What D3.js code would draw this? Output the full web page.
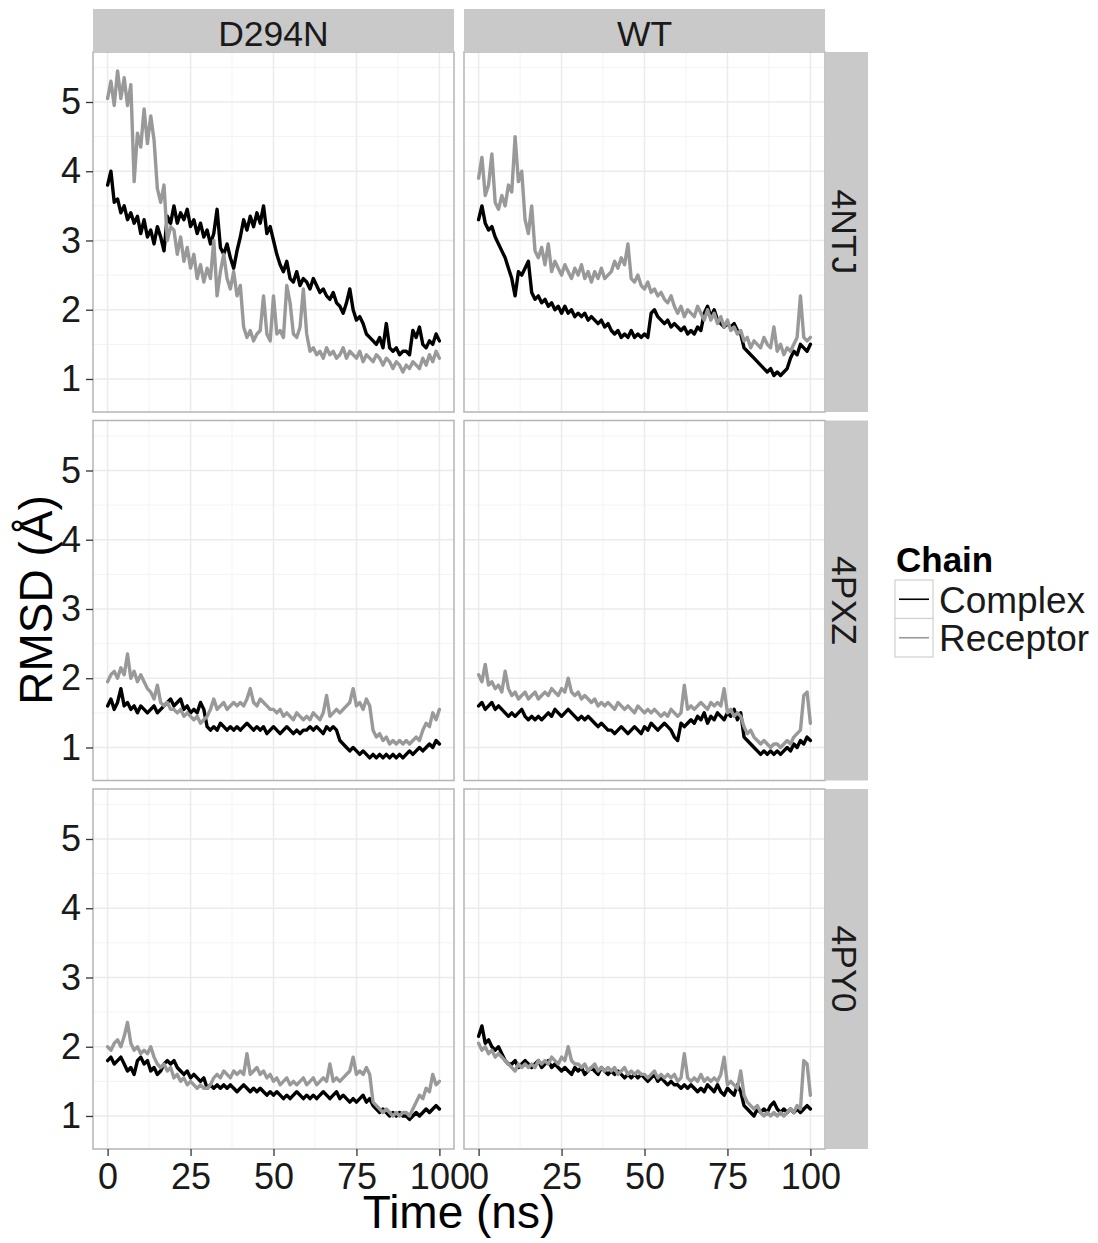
<!DOCTYPE html>
<html><head><meta charset="utf-8">
<script src="https://cdn.jsdelivr.net/npm/d3@7"></script>
<style>
body{margin:0;background:#fff}
svg{display:block;font-family:"Liberation Sans",Arial,Helvetica,sans-serif}
</style>
</head><body>
<svg id="chart" width="1098" height="1243"></svg>
<script>
// ---------- data ----------
const mutants = ["D294N", "WT"];
const structures = ["4NTJ", "4PXZ", "4PY0"];
const chains = ["Complex", "Receptor"];
const xTicks = [0, 25, 50, 75, 100];
const yTicks = [1, 2, 3, 4, 5];
const xLabel = "Time (ns)";
const yLabel = "RMSD (Å)";
const legendTitle = "Chain";

// sample times (ns)
const timeNs = [0,1,2,3,4,5,6,7,8,9,10,11,12,13,14,15,16,17,18,19,20,21,22,23,24,25,26,27,28,29,30,31,32,33,34,35,36,37,38,39,40,41,42,43,44,45,46,47,48,49,50,51,52,53,54,55,56,57,58,59,60,61,62,63,64,65,66,67,68,69,70,71,72,73,74,75,76,77,78,79,80,81,82,83,84,85,86,87,88,89,90,91,92,93,94,95,96,97,98,99,100];

const D294N_4NTJ_Complex = [3.80,4.00,3.55,3.60,3.40,3.50,3.30,3.40,3.25,3.35, 3.10,3.30,3.05,3.15,2.95,3.20,3.05,2.85,3.35,3.25, 3.50,3.25,3.40,3.30,3.45,3.20,3.30,3.10,3.25,3.05, 3.15,2.95,3.10,3.45,2.90,2.80,2.95,2.75,2.60,2.85, 3.05,3.30,3.15,3.35,3.20,3.40,3.25,3.50,3.10,3.20, 3.00,2.80,2.65,2.55,2.70,2.45,2.40,2.55,2.35,2.45, 2.40,2.30,2.45,2.35,2.25,2.30,2.20,2.15,2.25,2.10, 2.05,1.95,2.10,2.30,2.00,1.85,1.90,1.80,1.65,1.60, 1.55,1.50,1.60,1.45,1.80,1.45,1.40,1.45,1.35,1.40, 1.40,1.35,1.70,1.60,1.75,1.50,1.45,1.55,1.50,1.65,1.55];
const D294N_4NTJ_Receptor = [5.05,5.30,4.95,5.45,5.05,5.35,4.95,5.25,3.85,4.55, 4.35,4.90,4.40,4.80,4.45,3.75,3.55,3.80,3.00,3.20, 3.15,2.80,3.05,2.70,2.90,2.60,2.80,2.45,2.65,2.40, 2.60,2.45,3.00,2.20,2.55,2.80,2.45,2.30,2.55,2.20, 2.35,1.75,1.60,1.70,1.55,1.65,1.70,2.20,1.65,1.55, 2.20,1.65,1.70,1.60,2.35,2.10,1.65,1.60,1.75,2.30, 1.65,1.40,1.45,1.35,1.40,1.30,1.45,1.35,1.40,1.30, 1.35,1.45,1.30,1.40,1.35,1.30,1.40,1.25,1.35,1.30, 1.25,1.35,1.30,1.20,1.30,1.25,1.15,1.25,1.20,1.10, 1.20,1.15,1.25,1.20,1.15,1.30,1.20,1.35,1.25,1.40,1.30];
const WT_4NTJ_Complex = [3.30,3.50,3.25,3.15,3.20,3.05,2.95,2.85,2.75,2.60, 2.45,2.20,2.55,2.50,2.60,2.70,2.25,2.15,2.20,2.10, 2.15,2.05,2.10,2.00,2.05,1.95,2.05,1.95,2.00,1.90, 1.95,1.90,1.95,1.85,1.90,1.85,1.80,1.85,1.75,1.80, 1.70,1.65,1.70,1.60,1.65,1.60,1.70,1.60,1.65,1.60, 1.65,1.60,1.95,2.00,1.90,1.85,1.80,1.85,1.75,1.80, 1.75,1.70,1.75,1.65,1.70,1.65,1.75,1.70,1.95,2.05, 1.90,2.00,1.85,1.80,1.75,1.80,1.75,1.80,1.70,1.65, 1.45,1.40,1.35,1.30,1.25,1.20,1.15,1.10,1.15,1.05, 1.10,1.05,1.10,1.15,1.30,1.40,1.35,1.50,1.45,1.40,1.50];
const WT_4NTJ_Receptor = [3.90,4.20,3.65,3.80,4.25,3.55,3.45,3.65,3.50,3.80, 3.70,4.50,3.85,4.00,3.30,3.10,3.50,2.85,2.75,2.90, 2.65,2.95,2.55,2.70,2.60,2.50,2.65,2.55,2.45,2.60, 2.50,2.65,2.45,2.55,2.40,2.55,2.45,2.60,2.45,2.50, 2.55,2.70,2.60,2.75,2.65,2.95,2.45,2.40,2.50,2.35, 2.30,2.40,2.25,2.30,2.20,2.25,2.15,2.10,2.20,2.05, 1.95,2.05,1.90,2.00,1.95,1.90,2.05,1.95,1.85,2.00, 1.85,1.95,1.80,1.90,1.75,1.85,1.70,1.75,1.65,1.70, 1.55,1.60,1.45,1.55,1.50,1.45,1.60,1.50,1.45,1.75, 1.40,1.50,1.35,1.45,1.40,1.50,1.60,2.20,1.60,1.55,1.60];
const D294N_4PXZ_Complex = [1.60,1.70,1.55,1.65,1.85,1.60,1.65,1.55,1.60,1.50, 1.60,1.55,1.50,1.55,1.60,1.50,1.55,1.60,1.65,1.70, 1.60,1.65,1.70,1.55,1.60,1.50,1.55,1.50,1.65,1.55, 1.30,1.25,1.30,1.25,1.35,1.30,1.25,1.30,1.25,1.30, 1.25,1.30,1.35,1.30,1.25,1.30,1.25,1.30,1.20,1.25, 1.30,1.25,1.20,1.25,1.30,1.25,1.20,1.25,1.20,1.25, 1.25,1.30,1.25,1.30,1.25,1.20,1.30,1.25,1.30,1.25, 1.10,1.05,1.00,0.95,1.00,0.95,0.90,0.95,0.90,0.85, 0.90,0.85,0.90,0.85,0.90,0.85,0.90,0.85,0.90,0.85, 0.90,0.95,0.90,0.95,1.00,0.95,1.00,1.05,1.00,1.10,1.05];
const D294N_4PXZ_Receptor = [1.95,2.05,2.10,2.00,2.15,2.05,2.35,2.00,2.10,1.95, 2.05,1.95,1.85,1.80,1.70,1.90,1.65,1.60,1.65,1.55, 1.55,1.50,1.55,1.45,1.50,1.45,1.40,1.45,1.35,1.40, 1.45,1.55,1.70,1.55,1.60,1.65,1.55,1.60,1.65,1.60, 1.65,1.60,1.70,1.85,1.65,1.60,1.70,1.65,1.60,1.55, 1.55,1.50,1.55,1.45,1.50,1.45,1.40,1.50,1.45,1.40, 1.45,1.40,1.50,1.45,1.40,1.50,1.75,1.45,1.50,1.55, 1.50,1.55,1.60,1.65,1.85,1.60,1.65,1.55,1.70,1.60, 1.25,1.15,1.20,1.10,1.15,1.05,1.10,1.05,1.10,1.05, 1.10,1.05,1.10,1.15,1.10,1.25,1.35,1.30,1.50,1.40,1.55];
const WT_4PXZ_Complex = [1.60,1.65,1.55,1.60,1.65,1.55,1.60,1.55,1.50,1.45, 1.50,1.45,1.50,1.55,1.45,1.40,1.45,1.40,1.45,1.40, 1.45,1.50,1.45,1.55,1.50,1.45,1.50,1.55,1.50,1.45, 1.40,1.45,1.40,1.45,1.40,1.35,1.30,1.35,1.30,1.25, 1.25,1.20,1.25,1.30,1.25,1.20,1.25,1.30,1.25,1.20, 1.30,1.25,1.35,1.30,1.25,1.30,1.35,1.30,1.25,1.15, 1.10,1.35,1.30,1.35,1.40,1.35,1.45,1.40,1.50,1.35, 1.45,1.40,1.50,1.45,1.40,1.50,1.45,1.55,1.40,1.50, 1.15,1.10,1.05,1.00,0.95,0.90,0.95,0.90,0.95,0.90, 0.95,0.90,0.95,1.00,0.95,1.05,1.00,1.10,1.05,1.15,1.10];
const WT_4PXZ_Receptor = [2.05,1.95,2.20,1.90,1.95,1.85,1.90,1.80,2.10,1.85, 1.75,1.80,1.70,1.75,1.80,1.70,1.75,1.80,1.70,1.75, 1.80,1.75,1.85,1.80,1.75,1.85,1.80,2.00,1.80,1.75, 1.80,1.70,1.75,1.70,1.65,1.70,1.60,1.65,1.60,1.65, 1.60,1.55,1.65,1.60,1.55,1.60,1.55,1.50,1.60,1.55, 1.50,1.55,1.50,1.55,1.50,1.45,1.50,1.45,1.55,1.50, 1.45,1.50,1.90,1.55,1.60,1.55,1.60,1.65,1.60,1.55, 1.65,1.60,1.65,1.60,1.85,1.50,1.55,1.45,1.50,1.45, 1.30,1.20,1.25,1.15,1.10,1.05,1.10,1.05,1.00,1.05, 1.05,1.00,1.05,1.10,1.05,1.15,1.20,1.25,1.75,1.80,1.35];
const D294N_4PY0_Complex = [1.80,1.85,1.75,1.80,1.85,1.75,1.65,1.70,1.60,1.80, 1.85,1.75,1.80,1.65,1.70,1.60,1.65,1.75,1.80,1.75, 1.80,1.70,1.65,1.60,1.65,1.55,1.60,1.55,1.50,1.55, 1.40,1.45,1.40,1.45,1.40,1.45,1.40,1.45,1.40,1.35, 1.40,1.45,1.40,1.35,1.40,1.35,1.40,1.35,1.30,1.35, 1.30,1.35,1.30,1.25,1.30,1.25,1.30,1.35,1.30,1.25, 1.30,1.25,1.30,1.25,1.30,1.35,1.30,1.25,1.30,1.35, 1.25,1.30,1.25,1.20,1.25,1.20,1.25,1.30,1.20,1.25, 1.15,1.10,1.05,1.10,1.05,1.00,1.05,1.00,1.05,1.00, 1.00,0.95,1.00,1.05,1.00,1.05,1.10,1.05,1.10,1.15,1.10];
const D294N_4PY0_Receptor = [2.00,1.95,2.05,2.10,2.00,2.15,2.35,2.05,1.95,2.00, 1.90,1.95,1.90,2.00,1.85,1.75,1.70,1.75,1.65,1.70, 1.55,1.60,1.50,1.55,1.45,1.50,1.45,1.40,1.45,1.40, 1.40,1.45,1.55,1.60,1.55,1.65,1.60,1.55,1.65,1.60, 1.65,1.60,1.90,1.60,1.65,1.70,1.60,1.65,1.55,1.60, 1.50,1.55,1.45,1.50,1.55,1.45,1.50,1.45,1.50,1.55, 1.45,1.50,1.55,1.45,1.50,1.55,1.50,1.75,1.50,1.55, 1.50,1.55,1.60,1.65,1.85,1.60,1.65,1.60,1.70,1.60, 1.20,1.15,1.10,1.05,1.10,1.05,1.00,1.05,1.00,1.05, 1.05,1.00,1.10,1.20,1.30,1.25,1.40,1.35,1.60,1.45,1.50];
const WT_4PY0_Complex = [2.15,2.30,2.05,2.10,2.00,1.95,2.00,1.90,1.80,1.75, 1.75,1.80,1.70,1.75,1.80,1.75,1.70,1.75,1.80,1.70, 1.75,1.80,1.70,1.75,1.70,1.65,1.70,1.65,1.60,1.70, 1.65,1.70,1.60,1.65,1.70,1.65,1.60,1.70,1.65,1.60, 1.65,1.60,1.65,1.60,1.55,1.60,1.55,1.60,1.55,1.60, 1.55,1.50,1.55,1.60,1.50,1.55,1.50,1.45,1.50,1.45, 1.45,1.40,1.45,1.40,1.45,1.40,1.35,1.40,1.35,1.45, 1.40,1.35,1.45,1.35,1.30,1.40,1.35,1.30,1.45,1.35, 1.15,1.10,1.05,1.00,1.10,1.05,1.10,1.05,1.15,1.20, 1.10,1.05,1.10,1.05,1.10,1.05,1.10,1.05,1.10,1.15,1.10];
const WT_4PY0_Receptor = [2.05,1.95,2.00,1.90,1.95,1.85,1.90,1.85,1.80,1.75, 1.70,1.65,1.75,1.70,1.75,1.70,1.75,1.70,1.80,1.75, 1.80,1.75,1.85,1.80,1.75,1.85,1.80,2.00,1.80,1.75, 1.75,1.70,1.75,1.65,1.70,1.75,1.65,1.70,1.65,1.70, 1.65,1.70,1.60,1.65,1.70,1.60,1.65,1.60,1.65,1.60, 1.60,1.55,1.60,1.65,1.55,1.60,1.55,1.60,1.55,1.60, 1.50,1.55,1.90,1.55,1.50,1.55,1.50,1.60,1.50,1.55, 1.50,1.55,1.50,1.60,1.85,1.45,1.50,1.45,1.40,1.65, 1.30,1.20,1.15,1.10,1.15,1.05,1.00,1.05,1.00,1.05, 1.00,1.05,1.00,1.05,1.10,1.05,1.15,1.10,1.80,1.75,1.30];

const seriesTable = {
  D294N: {
    "4NTJ": {Complex: D294N_4NTJ_Complex, Receptor: D294N_4NTJ_Receptor},
    "4PXZ": {Complex: D294N_4PXZ_Complex, Receptor: D294N_4PXZ_Receptor},
    "4PY0": {Complex: D294N_4PY0_Complex, Receptor: D294N_4PY0_Receptor}
  },
  WT: {
    "4NTJ": {Complex: WT_4NTJ_Complex, Receptor: WT_4NTJ_Receptor},
    "4PXZ": {Complex: WT_4PXZ_Complex, Receptor: WT_4PXZ_Receptor},
    "4PY0": {Complex: WT_4PY0_Complex, Receptor: WT_4PY0_Receptor}
  }
};

// ---------- layout ----------
const colRanges = [[93, 454], [464, 825]];
const rowRanges = [[52, 412], [420.5, 780.5], [789, 1149]];
const xDomain = [-4.4, 104.4];
const yDomain = [0.523, 5.722];
const chainColor = {Complex: "#000000", Receptor: "#999999"};
const stripFill = "#c9c9c9";
const textColor = "#1a1a1a";

const svg = d3.select("#chart");
svg.append("rect").attr("width", 1098).attr("height", 1243).attr("fill", "#fff");

const xScales = colRanges.map(r => d3.scaleLinear().domain(xDomain).range(r));
const yScales = rowRanges.map(r => d3.scaleLinear().domain(yDomain).range([r[1], r[0]]));

const xMinor = [12.5, 37.5, 62.5, 87.5];
const yMinor = [1.5, 2.5, 3.5, 4.5, 5.5];

mutants.forEach((m, ci) => {
  const x = xScales[ci];
  structures.forEach((s, ri) => {
    const y = yScales[ri];
    const g = svg.append("g");
    const [x0, x1] = x.range();
    const [y1, y0] = y.range();
    g.append("rect").attr("x", x0).attr("y", y0).attr("width", x1 - x0).attr("height", y1 - y0).attr("fill", "#fff");
    // minor grid
    g.selectAll(".vmin").data(xMinor).join("line")
      .attr("x1", d => x(d)).attr("x2", d => x(d)).attr("y1", y0).attr("y2", y1)
      .attr("stroke", "#f3f3f3").attr("stroke-width", 1);
    g.selectAll(".hmin").data(yMinor).join("line")
      .attr("x1", x0).attr("x2", x1).attr("y1", d => y(d)).attr("y2", d => y(d))
      .attr("stroke", "#f3f3f3").attr("stroke-width", 1);
    // major grid
    g.selectAll(".vmaj").data(xTicks).join("line")
      .attr("x1", d => x(d)).attr("x2", d => x(d)).attr("y1", y0).attr("y2", y1)
      .attr("stroke", "#ebebeb").attr("stroke-width", 1.5);
    g.selectAll(".hmaj").data(yTicks).join("line")
      .attr("x1", x0).attr("x2", x1).attr("y1", d => y(d)).attr("y2", d => y(d))
      .attr("stroke", "#ebebeb").attr("stroke-width", 1.5);
    // lines
    const line = d3.line().x((d, i) => x(timeNs[i])).y(d => y(d));
    chains.forEach(c => {
      g.append("path").datum(seriesTable[m][s][c])
        .attr("d", line).attr("fill", "none")
        .attr("stroke", chainColor[c]).attr("stroke-width", 3.4)
        .attr("stroke-linejoin", "round").attr("stroke-linecap", "round");
    });
    // border
    g.append("rect").attr("x", x0).attr("y", y0).attr("width", x1 - x0).attr("height", y1 - y0)
      .attr("fill", "none").attr("stroke", "#b5b5b5").attr("stroke-width", 1.5);

    // axes
    if (ci === 0) {
      const ax = svg.append("g").attr("transform", `translate(${x0},0)`)
        .call(d3.axisLeft(y).tickValues(yTicks).tickSize(7).tickPadding(5).tickFormat(d3.format("d")));
      ax.select(".domain").remove();
      ax.selectAll(".tick line").attr("stroke", "#333").attr("stroke-width", 1.3);
      ax.selectAll("text").attr("font-size", 36).attr("fill", textColor)
        .attr("font-family", '"Liberation Sans",Arial,sans-serif');
    }
    if (ri === structures.length - 1) {
      const ax = svg.append("g").attr("transform", `translate(0,${y1})`)
        .call(d3.axisBottom(x).tickValues(xTicks).tickSize(7).tickPadding(7).tickFormat(d3.format("d")));
      ax.select(".domain").remove();
      ax.selectAll(".tick line").attr("stroke", "#333").attr("stroke-width", 1.3);
      ax.selectAll("text").attr("font-size", 36).attr("fill", textColor)
        .attr("font-family", '"Liberation Sans",Arial,sans-serif');
    }
  });
  // top strip
  const [sx0, sx1] = x.range();
  svg.append("rect").attr("x", sx0).attr("y", 9).attr("width", sx1 - sx0).attr("height", 43).attr("fill", stripFill);
  svg.append("text").attr("x", (sx0 + sx1) / 2).attr("y", 45.5).attr("text-anchor", "middle")
    .attr("font-size", 35.5).attr("fill", textColor).text(m);
});

// right strips
structures.forEach((s, ri) => {
  const [ry1, ry0] = yScales[ri].range();
  svg.append("rect").attr("x", 825).attr("y", ry0).attr("width", 43).attr("height", ry1 - ry0).attr("fill", stripFill);
  svg.append("text").attr("transform", `translate(832,${(ry0 + ry1) / 2}) rotate(90)`)
    .attr("text-anchor", "middle").attr("font-size", 35.5).attr("fill", textColor).text(s);
});

// axis titles
svg.append("text").attr("x", 459).attr("y", 1228).attr("text-anchor", "middle")
  .attr("font-size", 46).attr("fill", "#000").text(xLabel);
svg.append("text").attr("transform", "translate(52,600) rotate(-90)").attr("text-anchor", "middle")
  .attr("font-size", 46).attr("fill", "#000").text(yLabel);

// legend
const lg = svg.append("g");
lg.append("text").attr("x", 896).attr("y", 572).attr("font-size", 35).attr("font-weight", "bold")
  .attr("fill", "#000").text(legendTitle);
chains.forEach((c, i) => {
  const ky = 580 + i * 38.5;
  lg.append("rect").attr("x", 895).attr("y", ky).attr("width", 38).attr("height", 38.5)
    .attr("fill", "#fff").attr("stroke", "#d0d0d0").attr("stroke-width", 1.2);
  lg.append("line").attr("x1", 899).attr("x2", 929).attr("y1", ky + 19.25).attr("y2", ky + 19.25)
    .attr("stroke", chainColor[c]).attr("stroke-width", 1.6);
  lg.append("text").attr("x", 939).attr("y", ky + 19.25).attr("dy", "0.36em")
    .attr("font-size", 37).attr("fill", textColor).text(c);
});
</script>
</body></html>
